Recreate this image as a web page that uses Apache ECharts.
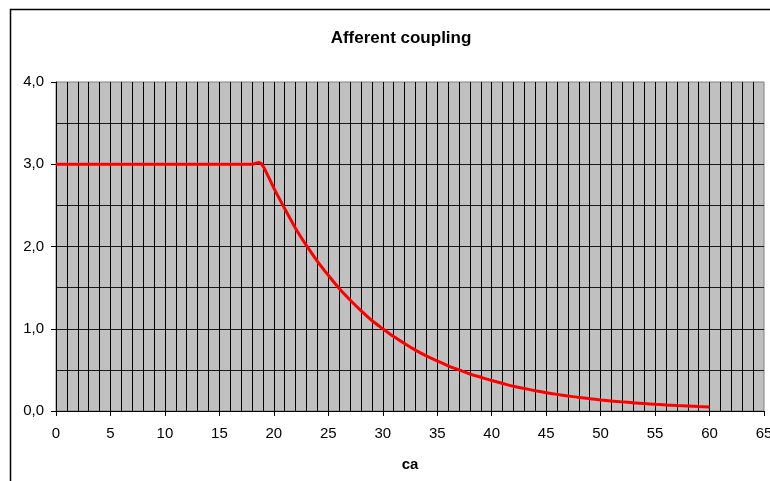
<!DOCTYPE html>
<html>
<head>
<meta charset="utf-8">
<script src="https://cdn.jsdelivr.net/npm/echarts@6/dist/echarts.min.js"></script>
<style>
html,body{margin:0;padding:0;background:#fff;overflow:hidden;}
#chart{width:770px;height:481px;}
</style>
</head>
<body>
<div id="chart"></div>
<script>
const titleText = 'Afferent coupling';
const xAxisName = 'ca';
const caValues = [0,1,2,3,4,5,6,7,8,9,10,11,12,13,14,15,16,17,18,18.6,19,20,21,22,23,24,25,26,27,28,29,30,31,32,33,34,35,36,37,38,39,40,41,42,43,44,45,46,47,48,49,50,51,52,53,54,55,56,57,58,59,60];
const couplingValues = [3,3,3,3,3,3,3,3,3,3,3,3,3,3,3,3,3,3,3,3.02,2.98,2.71,2.46,2.22,2.01,1.82,1.65,1.49,1.35,1.22,1.10,1.00,0.905,0.82,0.74,0.67,0.61,0.55,0.50,0.45,0.41,0.37,0.335,0.30,0.273,0.247,0.223,0.202,0.183,0.165,0.150,0.135,0.122,0.111,0.100,0.091,0.082,0.074,0.067,0.061,0.055,0.050];
const xTicks = {min: 0, max: 65, step: 5};
const yTicks = {min: 0, max: 4, step: 1};

const fmtComma = v => v.toFixed(1).replace('.', ',');
const chart = echarts.init(document.getElementById('chart'));
const FONT = 'Liberation Sans, Arial, sans-serif';

chart.setOption({
  animation: false,
  backgroundColor: '#ffffff',
  graphic: [{
    type: 'rect', left: 8, top: 7, silent: true,
    shape: {x: 0, y: 0, width: 800, height: 520},
    style: {fill: 'none', stroke: '#000', lineWidth: 1.5}
  }],
  title: {
    text: titleText, left: 396, top: 25, textAlign: 'center',
    textStyle: {fontFamily: FONT, fontSize: 17, fontWeight: 'bold', color: '#000'}
  },
  grid: {
    left: 56, top: 82, right: 6, bottom: 70,
    outerBoundsMode: 'none', containLabel: false,
    show: true, backgroundColor: '#c0c0c0', borderColor: '#808080', borderWidth: 1
  },
  xAxis: {
    type: 'value', min: xTicks.min, max: xTicks.max, interval: xTicks.step,
    name: xAxisName, nameLocation: 'middle', nameGap: 46,
    nameTextStyle: {fontFamily: FONT, fontSize: 15, fontWeight: 'bold', color: '#000'},
    axisLine: {show: true, onZero: false, lineStyle: {color: '#000', width: 1}},
    axisTick: {show: true, inside: false, length: 5, lineStyle: {color: '#000'}},
    axisLabel: {fontFamily: FONT, fontSize: 15, color: '#000', margin: 15, hideOverlap: false},
    splitLine: {show: true, showMinLine: false, showMaxLine: false, lineStyle: {color: '#000', width: 1}},
    minorTick: {show: false, splitNumber: 5},
    minorSplitLine: {show: true, lineStyle: {color: '#000', width: 1}}
  },
  yAxis: {
    type: 'value', min: yTicks.min, max: yTicks.max, interval: yTicks.step,
    axisLine: {show: true, lineStyle: {color: '#000', width: 1}},
    axisTick: {show: true, inside: false, length: 5, lineStyle: {color: '#000'}},
    axisLabel: {fontFamily: FONT, fontSize: 15, color: '#000', margin: 12, formatter: fmtComma},
    splitLine: {show: true, showMinLine: false, showMaxLine: false, lineStyle: {color: '#1a1a1a', width: 1}},
    minorTick: {show: false, splitNumber: 2},
    minorSplitLine: {show: true, lineStyle: {color: '#1a1a1a', width: 1}}
  },
  series: [{
    type: 'line',
    data: caValues.map((x, i) => [x, couplingValues[i]]),
    smooth: 0.3,
    showSymbol: false,
    lineStyle: {color: '#ff0000', width: 3},
    z: 5
  }]
});
</script>
</body>
</html>
